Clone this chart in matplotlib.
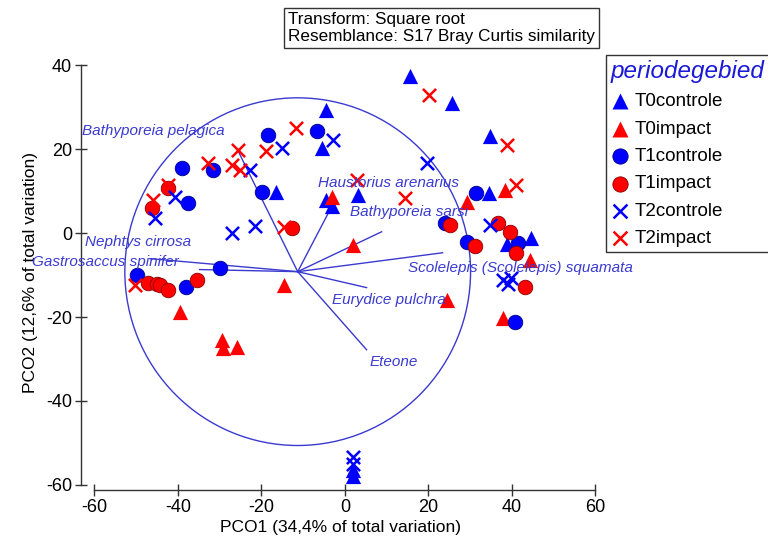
import numpy as np
import matplotlib.pyplot as plt
from matplotlib.patches import Circle

# ================================================
# Données
# ================================================
t0c_x = [15.6, 25.6, -4.6, -5.5, -16.5, -4.6, -3.1, 3.1, 34.7, 34.5, 44.6, 38.8, 1.9, 1.9]
t0c_y = [37.4, 31.0, 29.3, 20.2, 9.8, 7.9, 6.4, 9.0, 23.0, 9.5, -1.2, -2.6, -56.4, -57.9]

t0i_x = [-3.1, 1.9, -14.6, -39.5, -29.5, -29.2, -25.9, 24.4, 29.2, 38.3, 37.8, 44.3]
t0i_y = [8.6, -2.9, -12.4, -18.8, -25.5, -27.4, -27.1, -16.0, 7.4, 10.2, -20.2, -6.4]

t1c_x = [-18.4, -6.7, -39.0, -31.6, -19.9, -37.6, 31.4, 24.0, 29.2, -49.8, -29.9, -38.1, 41.4, 40.7]
t1c_y = [23.3, 24.3, 15.5, 15.0, 9.8, 7.1, 9.5, 2.4, -2.1, -10.0, -8.3, -12.9, -2.4, -21.2]

t1i_x = [-12.7, -42.4, -46.2, -47.2, -45.0, -44.3, -42.4, -35.4, 25.1, 31.1, 36.6, 39.5, 41.0, 43.1]
t1i_y = [1.2, 10.7, 6.0, -11.9, -12.1, -12.4, -13.6, -11.2, 1.9, -3.1, 2.4, 0.2, -4.8, -12.9]

t2c_x = [-15.1, -22.8, -40.7, -45.5, -27.1, -21.6, -2.9, 19.6, 34.7, 37.8, 39.0, 39.8, 1.9, 1.9]
t2c_y = [20.2, 15.0, 8.6, 3.6, 0.0, 1.7, 22.1, 16.7, 1.9, -11.2, -12.2, -10.8, -53.3, -55.0]

t2i_x = [-11.7, -18.9, -25.6, -32.8, -27.1, -25.1, -42.4, -46.0, -14.6, 20.1, 38.8, 14.4, 2.9, 41.0, -50.3]
t2i_y = [25.0, 19.5, 19.8, 16.7, 16.2, 15.0, 11.4, 7.9, 1.4, 32.9, 21.0, 8.3, 12.6, 11.4, -12.4]

# Vecteurs (corrélations des espèces), origine au centre du cercle
centre = (-11.3, -9.2)
rayon = 41.4
especes = ['Bathyporeia pelagica', 'Haustorius arenarius', 'Bathyporeia sarsi',
           'Scolelepis (Scolelepis) squamata', 'Eurydice pulchra', 'Eteone',
           'Nephtys cirrosa', 'Gastrosaccus spinifer']
vec_dx = [-14.4, 8.4, 20.1, 34.7, 16.5, 16.5, -23.5, -35.4]
vec_dy = [29.0, 16.0, 9.5, 4.5, -3.8, -18.6, 0.5, 3.1]
label_x = [-63.0, -6.5, 1.2, 15.1, -3.1, 6.0, -62.3, -75.0]
label_y = [24.3, 11.9, 5.0, -8.3, -16.0, -30.7, -2.1, -6.9]

# ================================================
# Figure
# ================================================
plt.rcParams['font.family'] = ['Liberation Sans', 'DejaVu Sans']
plt.rcParams['axes.unicode_minus'] = False

fig = plt.figure(figsize=(7.68, 5.5), dpi=100)
ax = fig.add_axes([81/768, 1 - 490/550, (600 - 81)/768, (490 - 55)/550])

bleu_vec = '#3a3ad0'

# Cercle et vecteurs
ax.add_patch(Circle(centre, rayon, fill=False, ec=bleu_vec, lw=1.0, zorder=1))
for dx, dy in zip(vec_dx, vec_dy):
    ax.plot([centre[0], centre[0] + dx], [centre[1], centre[1] + dy],
            color=bleu_vec, lw=1.0, zorder=1)
for nom, lx, ly in zip(especes, label_x, label_y):
    ax.text(lx, ly, nom, color=bleu_vec, fontsize=11, style='italic',
            ha='left', va='center', clip_on=False, zorder=5)

# Points
ax.scatter(t0c_x, t0c_y, marker='^', s=120, c='#0000ff', linewidths=0, label='T0controle', zorder=3)
ax.scatter(t0i_x, t0i_y, marker='^', s=120, c='#ff0000', linewidths=0, label='T0impact', zorder=3)
ax.scatter(t1c_x, t1c_y, marker='o', s=110, c='#0000ff', edgecolors='#00008b', linewidths=0.6, label='T1controle', zorder=3)
ax.scatter(t1i_x, t1i_y, marker='o', s=110, c='#ff0000', edgecolors='#8b0000', linewidths=0.6, label='T1impact', zorder=3)
ax.scatter(t2c_x, t2c_y, marker='x', s=90, c='#0000ff', linewidths=1.8, label='T2controle', zorder=3)
ax.scatter(t2i_x, t2i_y, marker='x', s=90, c='#ff0000', linewidths=1.8, label='T2impact', zorder=3)

# Axes
ax.set_xlim(-63.2, 61.1)
ax.set_ylim(-61.2, 42.4)
ax.spines['top'].set_visible(False)
ax.spines['right'].set_visible(False)
ax.spines['bottom'].set_bounds(-60, 60)
ax.spines['left'].set_bounds(-60, 40)
for sp in ['bottom', 'left']:
    ax.spines[sp].set_color('#333333')
    ax.spines[sp].set_linewidth(1.0)
ax.set_xticks(np.arange(-60, 61, 20))
ax.set_yticks(np.arange(-60, 41, 20))
ax.tick_params(direction='inout', length=9, width=1, color='#333333',
               labelsize=13, pad=2)
ax.set_xlabel('PCO1 (34,4% of total variation)', fontsize=12.5, labelpad=3)
ax.set_ylabel('PCO2 (12,6% of total variation)', fontsize=12.5, labelpad=6)

# Légende
leg = ax.legend(loc='upper left', bbox_to_anchor=(606/768, 1 - 55/550),
                bbox_transform=fig.transFigure, title='periodegebied',
                fontsize=13.5, title_fontsize=17.5, frameon=True, fancybox=False,
                edgecolor='#333333', framealpha=1, borderpad=0.25,
                labelspacing=0.55, handletextpad=0.3, handlelength=1.0,
                markerscale=1.05, borderaxespad=0)
leg.get_title().set_color('#1a1ad8')
leg.get_title().set_style('italic')
leg._legend_box.align = 'left'
leg.get_frame().set_linewidth(1.0)

# Boîte "Transform"
fig.text(288/768, 1 - 28/550, 'Transform: Square root\nResemblance: S17 Bray Curtis similarity',
         fontsize=12.3, ha='left', va='center', linespacing=1.15,
         bbox=dict(boxstyle='square,pad=0.25', fc='white', ec='#333333', lw=1.0))

plt.savefig('out.png', dpi=100)
print("Sauvegardé : out.png")
